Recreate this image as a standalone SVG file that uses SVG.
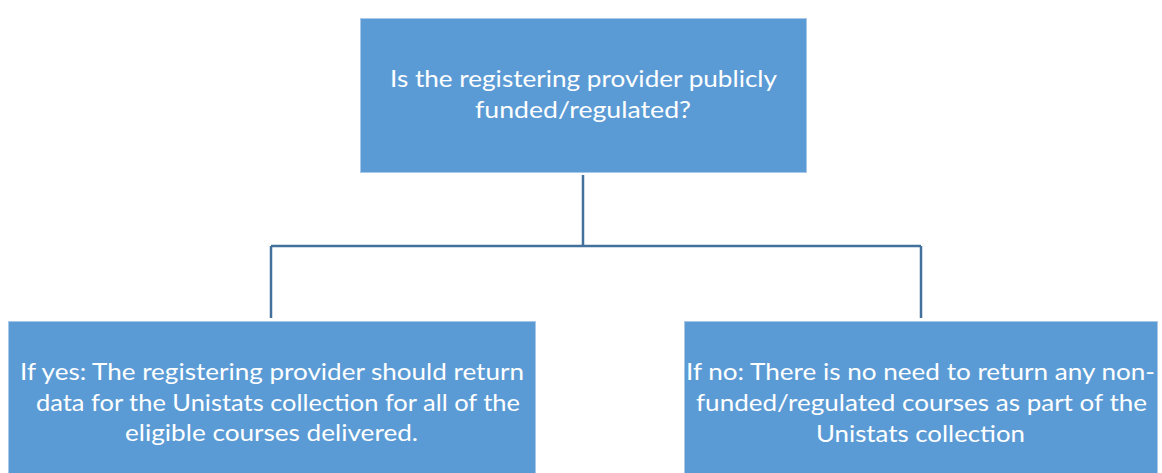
<svg xmlns="http://www.w3.org/2000/svg" width="1162" height="473" viewBox="0 0 1162 473">
<style>
.box{fill:#5B9BD5;stroke:#A9C8E8;stroke-width:1}
.t{fill:#FFFFFF;font-family:Lato,"Open Sans","Liberation Sans",sans-serif;font-size:23.5px;text-anchor:middle}
.c{fill:none;stroke:#41719C;stroke-width:2.5}
</style>
<rect width="1162" height="473" fill="#FFFFFF"/>
<g id="connectors">
<path class="c" d="M583 175 V246 M271 246 H921 M271 246 V318 M921 246 V318"/>
</g>
<g id="question">
<rect class="box" x="360.5" y="18.5" width="446" height="154"/>
<text class="t" x="583.5" y="87" textLength="387" lengthAdjust="spacingAndGlyphs">Is the registering provider publicly</text>
<text class="t" x="583" y="118" textLength="216" lengthAdjust="spacingAndGlyphs">funded/regulated?</text>
</g>
<g id="yes">
<rect class="box" x="8.5" y="321.5" width="527" height="153"/>
<text class="t" x="272" y="380" textLength="504" lengthAdjust="spacingAndGlyphs">If yes: The registering provider should return</text>
<text class="t" x="278" y="411" textLength="484" lengthAdjust="spacingAndGlyphs">data for the Unistats collection for all of the</text>
<text class="t" x="271.5" y="441" textLength="293" lengthAdjust="spacingAndGlyphs">eligible courses delivered.</text>
</g>
<g id="no">
<rect class="box" x="684.5" y="321.5" width="473" height="153"/>
<text class="t" x="920.5" y="380" textLength="469" lengthAdjust="spacingAndGlyphs">If no: There is no need to return any non-</text>
<text class="t" x="921.5" y="411" textLength="451" lengthAdjust="spacingAndGlyphs">funded/regulated courses as part of the</text>
<text class="t" x="920.5" y="442" textLength="209" lengthAdjust="spacingAndGlyphs">Unistats collection</text>
</g>
</svg>
